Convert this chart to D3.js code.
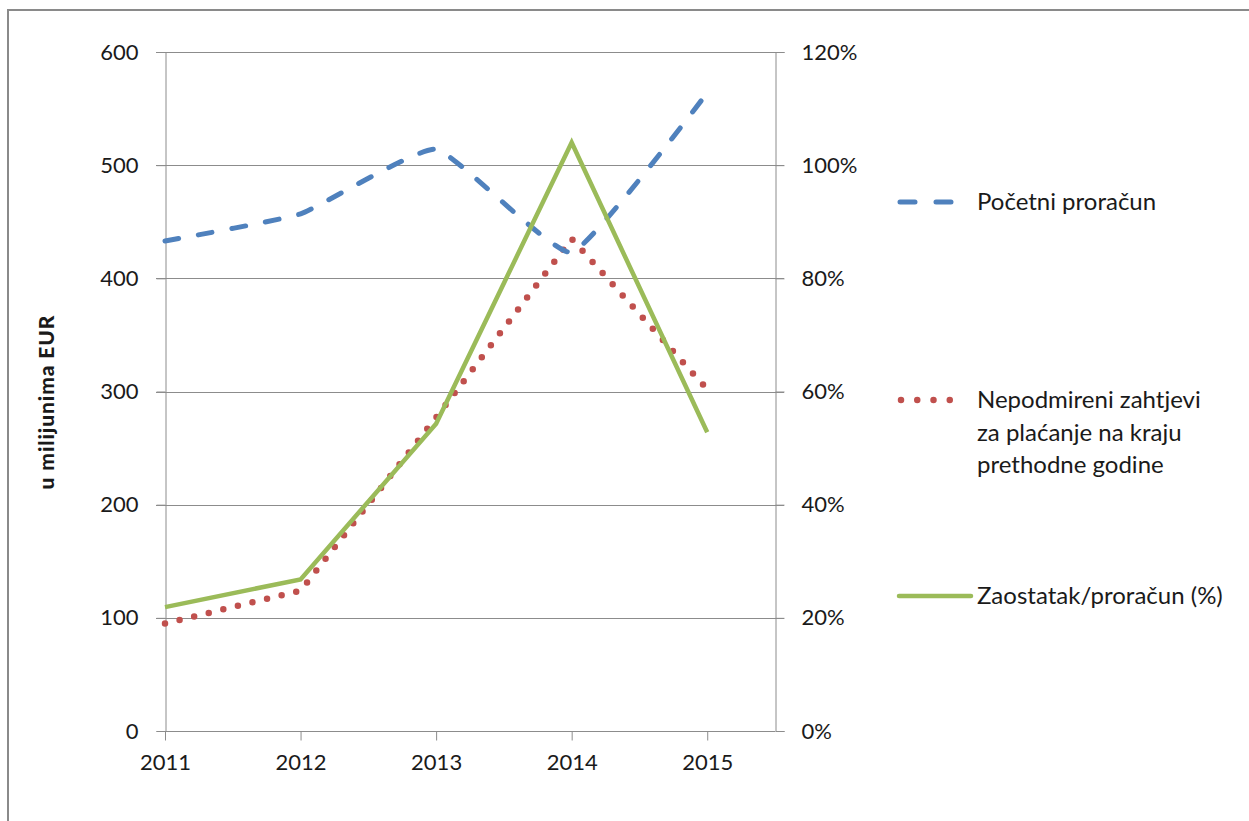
<!DOCTYPE html>
<html>
<head>
<meta charset="utf-8">
<script src="https://cdn.jsdelivr.net/npm/d3@7"></script>
<style>
  html, body { margin: 0; padding: 0; background: #fff; }
  svg { display: block; }
  text { font-family: Lato, "Open Sans", sans-serif; fill: #1a1a1a; }
</style>
</head>
<body>
<svg id="chart" width="1249" height="821"></svg>
<script>
const years = [2011, 2012, 2013, 2014, 2015];
const budget = [433, 457, 514, 423, 564];          // Početni proračun (EUR mil.)
const backlog = [95, 124, 277, 435, 302];          // Nepodmireni zahtjevi (EUR mil.)
const ratio = [21.9, 26.8, 54.3, 104, 52.8];       // Zaostatak/proračun (%)
const leftTicks = [0, 100, 200, 300, 400, 500, 600];
const rightTicks = [0, 20, 40, 60, 80, 100, 120];
const seriesNames = ["Početni proračun", "Nepodmireni zahtjevi za plaćanje na kraju prethodne godine", "Zaostatak/proračun (%)"];
const legendLines2 = ["Nepodmireni zahtjevi", "za plaćanje na kraju", "prethodne godine"];
const yTitle = "u milijunima EUR";

const svg = d3.select("#chart");
const pLeft = 165, pRight = 775, pTop = 52, pBottom = 731;
const x = d3.scaleLinear().domain([2011, 2015.5]).range([pLeft, pRight]);
const yL = d3.scaleLinear().domain([0, 600]).range([pBottom, pTop]);
const yR = d3.scaleLinear().domain([0, 120]).range([pBottom, pTop]);
const grey = "#8c8c8c";

// frame
svg.append("rect").attr("x", 8).attr("y", 10).attr("width", 1260).attr("height", 830)
  .attr("fill", "none").attr("stroke", "#8a8a8a").attr("stroke-width", 2);

// gridlines
svg.append("g").selectAll("line").data(leftTicks.filter(d => d > 0)).join("line")
  .attr("x1", pLeft - 9).attr("x2", pRight + 9)
  .attr("y1", d => Math.round(yL(d)) + 0.5).attr("y2", d => Math.round(yL(d)) + 0.5)
  .attr("stroke", grey).attr("stroke-width", 1);

// left axis
const gL = svg.append("g").attr("transform", `translate(${pLeft + 0.5},0)`)
  .call(d3.axisLeft(yL).tickValues(leftTicks).tickSize(9).tickPadding(18).tickFormat(d3.format("d")));
// right axis
const gR = svg.append("g").attr("transform", `translate(${pRight + 0.5},0)`)
  .call(d3.axisRight(yR).tickValues(rightTicks).tickSize(9).tickPadding(17).tickFormat(d => d + "%"));
// bottom axis
const gB = svg.append("g").attr("transform", `translate(0,${pBottom + 0.5})`)
  .call(d3.axisBottom(x).tickValues(years).tickSize(9).tickPadding(14).tickFormat(d3.format("d")));

[gL, gR, gB].forEach(g => {
  g.select(".domain").attr("stroke", grey).attr("stroke-width", 1);
  g.selectAll(".tick line").attr("stroke", grey);
  g.selectAll(".tick text").attr("font-size", 22).attr("fill", "#1a1a1a")
    .style("font-family", "Lato, 'Open Sans', sans-serif");
});
gB.select(".domain").attr("d", `M${pLeft},0H${pRight}`);

// y title
svg.append("text").attr("transform", "translate(54,402) rotate(-90)")
  .attr("text-anchor", "middle").attr("font-size", 21).attr("font-weight", 900)
  .attr("letter-spacing", 0.9).text(yTitle);

// series
const lineBudget = d3.line().x((d, i) => x(years[i])).y(d => yL(d)).curve(d3.curveCardinal.tension(0.6));
const lineBacklog = d3.line().x((d, i) => x(years[i])).y(d => yL(d));
const lineRatio = d3.line().x((d, i) => x(years[i])).y(d => yR(d));

svg.append("path").attr("d", lineBacklog(backlog)).attr("fill", "none")
  .attr("stroke", "#C0504D").attr("stroke-width", 6.5).attr("stroke-linecap", "round")
  .attr("stroke-dasharray", "0 15");
svg.append("path").attr("d", lineBudget(budget)).attr("fill", "none")
  .attr("stroke", "#4F81BD").attr("stroke-width", 5).attr("stroke-linecap", "round")
  .attr("stroke-dasharray", "14 20");
svg.append("path").attr("d", lineRatio(ratio)).attr("fill", "none")
  .attr("stroke", "#9BBB59").attr("stroke-width", 4.5).attr("stroke-linejoin", "miter");

// legend
const lg = svg.append("g");
const lfs = 24;
lg.append("line").attr("x1", 900).attr("x2", 956).attr("y1", 202).attr("y2", 202)
  .attr("stroke", "#4F81BD").attr("stroke-width", 5).attr("stroke-linecap", "round").attr("stroke-dasharray", "15 21");
lg.append("text").attr("x", 977).attr("y", 202).attr("dy", "0.35em").attr("font-size", lfs).text(seriesNames[0]);

lg.append("line").attr("x1", 901).attr("x2", 966).attr("y1", 400).attr("y2", 400)
  .attr("stroke", "#C0504D").attr("stroke-width", 6.5).attr("stroke-linecap", "round").attr("stroke-dasharray", "0 16.25");
const t2 = lg.append("text").attr("x", 977).attr("y", 400).attr("font-size", lfs);
legendLines2.forEach((s, i) => {
  t2.append("tspan").attr("x", 977).attr("y", 400 + i * 32.5).attr("dy", "0.35em").text(s);
});

lg.append("line").attr("x1", 899).attr("x2", 971).attr("y1", 596).attr("y2", 596)
  .attr("stroke", "#9BBB59").attr("stroke-width", 4.5).attr("stroke-linecap", "round");
lg.append("text").attr("x", 977).attr("y", 596).attr("dy", "0.35em").attr("font-size", lfs).text(seriesNames[2]);
</script>
</body>
</html>
